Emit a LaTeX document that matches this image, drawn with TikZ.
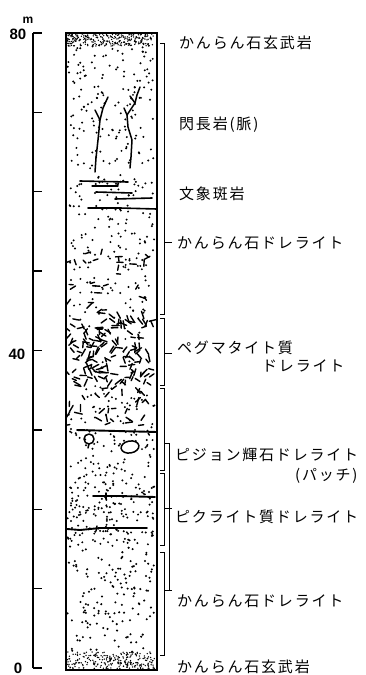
\documentclass[tikz,border=0pt]{standalone}
\usepackage{fontspec}
\newfontfamily\jpfont{Noto Sans CJK JP}[LetterSpace=12]
\newfontfamily\numfont{Liberation Sans}
% scatter #1 dots of radius #4 over the column between depths #2 and #3
\newcommand\dotfield[4]{%
  \foreach \i in {1,...,#1}{%
    \pgfmathsetmacro\px{67.5+87*rnd}%
    \pgfmathsetmacro\py{#2+(#3-#2)*rnd}%
    \fill (\px,\py) circle (#4);}}
% scatter #1 short crystal laths between depths #2 and #3
\newcommand\lathfield[3]{%
  \foreach \i in {1,...,#1}{%
    \pgfmathsetmacro\px{69+82*rnd}%
    \pgfmathsetmacro\py{#2+(#3-#2)*rnd}%
    \pgfmathsetmacro\pa{360*rnd}%
    \pgfmathsetmacro\pl{4+4*rnd}%
    \draw[peg] (\px,\py) -- ++(\pa:\pl);}}
\begin{document}
\begin{tikzpicture}[x=1pt,y=-1pt,
  lab/.style={anchor=west,inner sep=0pt,font={\jpfont\fontsize{15}{18}\selectfont}},
  num/.style={inner sep=0pt,font={\numfont\bfseries\fontsize{15}{17}\selectfont}},
  frame/.style={line width=2pt},
  axisline/.style={line width=1.7pt},
  tick/.style={line width=1.3pt},
  brk/.style={line width=1pt},
  vein/.style={line width=1.5pt,line cap=round,line join=round},
  seam/.style={line width=1.6pt,line cap=round,line join=round},
  peg/.style={line width=1.4pt,line cap=round}]
\useasboundingbox (0,0) rectangle (366,675);

% ---------- depth scale ----------
\coordinate (ax0) at (33,668);
\coordinate (ax80) at (33,33);
\draw[axisline] (ax0) -- (ax80);
\foreach \m in {0,10,...,80}
  \draw[tick] (33,{668-7.9375*\m}) -- ++(9,0);
\node[num] (n80) at (18,34) {80};
\node[num,font={\numfont\bfseries\fontsize{12}{14}\selectfont}] (nm) at (28,20) {m};
\node[num] (n40) at (17,354) {40};
\node[num] (n0) at (18,668) {0};

% ---------- column fill ----------
\pgfmathsetseed{4321}
\begin{scope}
  \clip (66,34) rectangle (156,669);
  % chilled margins
  \dotfield{280}{34}{46}{0.75}
  \dotfield{260}{652}{669}{0.75}
  % upper dolerite
  \dotfield{230}{46}{235}{1.1}
  \dotfield{90}{235}{320}{1.1}
  \lathfield{34}{250}{320}
  % pegmatitic dolerite
  \lathfield{150}{318}{388}
  \dotfield{12}{318}{388}{1.1}
  \lathfield{30}{388}{425}
  \dotfield{40}{388}{428}{1.1}
  % pigeonite and picritic dolerite
  \dotfield{80}{428}{482}{1.1}
  \dotfield{170}{482}{546}{1.1}
  % lower dolerite
  \dotfield{140}{546}{652}{1.15}
\end{scope}

% syenite veins
\draw[vein] (95,172) -- (96,158) -- (98,140) -- (100,120) -- (95,110);
\draw[vein] (100,120) -- (103,108) -- (108,97);
\draw[vein] (130,168) -- (131,157) -- (132,140) -- (128,127) -- (127,115) -- (124,108);
\draw[vein] (127,115) -- (135,103) -- (130,96);
\draw[vein] (135,103) -- (137,95) -- (140,87);

% granophyre streaks
\draw[seam] (80,181) -- (128,182);
\draw[seam,line width=1.1pt] (92,186) -- (118,186);
\draw[seam] (96,192) -- (132,193);
\draw[seam] (115,199) -- (152,198);
\draw[seam] (88,208) -- (120,208) -- (157,209);

% lower contacts and pigeonite patches
\draw[seam,line width=1.9pt] (77,430) -- (157,432);
\draw[vein] (89,439) circle (5);
\draw[vein] (89,444) -- (88,448);
\draw[vein,rotate around={10:(130,447)}] (130,447) ellipse (9 and 6);
\draw[seam,line width=1.9pt] (93,496) -- (120,496) -- (155,497);
\draw[vein] (106,493) -- (106,499);
\draw[seam,line width=1.9pt] (67,529) -- (80,530) -- (100,528) -- (147,528);
\draw[vein] (97,526) -- (96,531);

% column outline
\draw[frame] (66,33) rectangle (157,670);

% ---------- brackets ----------
\coordinate (aT) at (164,43);  \coordinate (aB) at (164,314);
\coordinate (bT) at (164,318); \coordinate (bB) at (164,385);
\coordinate (cT) at (164,388); \coordinate (cB) at (164,470);
\coordinate (dT) at (164,473); \coordinate (dB) at (164,545);
\coordinate (eT) at (164,552); \coordinate (eB) at (164,655);
\coordinate (fT) at (169,443); \coordinate (fB) at (169,590);
\foreach \t/\b in {aT/aB,bT/bB,cT/cB,dT/dB,eT/eB}
  \draw[brk] ([xshift=-4pt]\t) -- (\t) -- (\b) -- ([xshift=-4pt]\b);
\draw[brk] ([xshift=-4pt]fT) -- (fT) -- (fB);

% ---------- labels ----------
\node[lab] (l1) at (179,43) {かんらん石玄武岩};
\node[lab] (l2) at (179,125) {閃長岩(脈)};
\node[lab] (l3) at (179,194) {文象斑岩};
\node[lab] (l4) at (177,243) {かんらん石ドレライト};
\node[lab] (l5) at (177,348) {ペグマタイト質};
\node[lab] (l5b) at (262,366) {ドレライト};
\node[lab] (l6) at (175,455) {ピジョン輝石ドレライト};
\node[lab] (l6b) at (295,476) {(パッチ)};
\node[lab] (l7) at (175,517) {ピクライト質ドレライト};
\node[lab] (l8) at (177,601) {かんらん石ドレライト};
\node[lab] (l9) at (177,667) {かんらん石玄武岩};

% ticks from the brackets to their labels
\draw[brk] (164,242) -- (172,242) coordinate (ta);
\draw[brk] (164,353) -- (172,353) coordinate (tb);
\draw[brk] (164,508) -- (172,508) coordinate (td);
\draw[brk] (164,590) -- (172,590) coordinate (te);
\end{tikzpicture}
\end{document}
